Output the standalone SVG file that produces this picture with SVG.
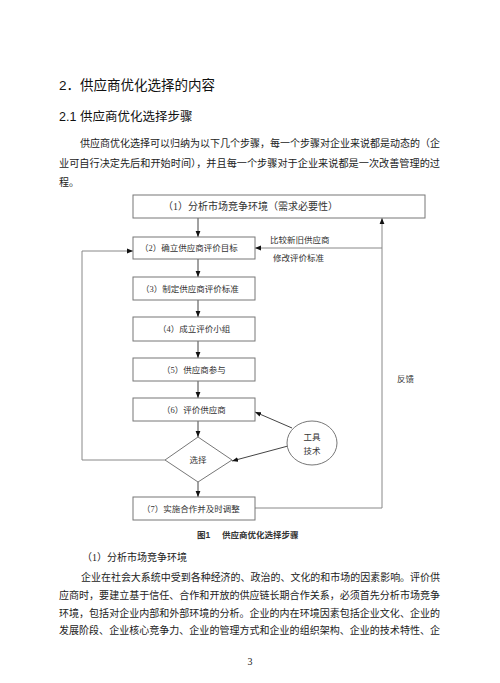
<svg xmlns="http://www.w3.org/2000/svg" width="500" height="683" viewBox="0 0 500 683">
<style>
.body{font-family:"Liberation Serif","Noto Sans CJK SC",serif;font-size:10px;fill:#222}
.h1{font-family:"Liberation Sans","Noto Sans CJK SC",sans-serif;font-size:13.5px;fill:#111}
.h2{font-family:"Liberation Sans","Noto Sans CJK SC",sans-serif;font-size:12.5px;fill:#111}
.lbl{font-family:"Liberation Serif","Noto Sans CJK SC",serif;font-size:8.5px;fill:#333}
.lbl1{font-family:"Liberation Serif","Noto Sans CJK SC",serif;font-size:10px;fill:#333}
.cap{font-family:"Liberation Sans","Noto Sans CJK SC",sans-serif;font-size:8.5px;font-weight:bold;fill:#333}
.box{fill:#fff;stroke:#777;stroke-width:1}
.ln{fill:none;stroke:#444;stroke-width:1}
.lnr{fill:none;stroke:#888;stroke-width:1}
</style>
<defs>
<marker id="ah" viewBox="0 0 10 10" refX="10" refY="5" markerWidth="6" markerHeight="6" orient="auto" markerUnits="userSpaceOnUse">
<path d="M0,1 L10,5 L0,9 Z" fill="#111"/>
</marker>
</defs>
<rect width="500" height="683" fill="#fff"/>

<text class="h1" x="59" y="90">2．供应商优化选择的内容</text>
<text class="h2" x="59" y="120.5">2.1</text>
<text class="h2" x="80" y="120.5">供应商优化选择步骤</text>
<text class="body" x="80" y="147" textLength="360" lengthAdjust="spacingAndGlyphs">供应商优化选择可以归纳为以下几个步骤，每一个步骤对企业来说都是动态的（企</text>
<text class="body" x="59" y="167" textLength="381" lengthAdjust="spacingAndGlyphs">业可自行决定先后和开始时间），并且每一个步骤对于企业来说都是一次改善管理的过</text>
<text class="body" x="59" y="186">程。</text>

<g id="connectors">
<line class="ln" x1="198" y1="218" x2="198" y2="237" marker-end="url(#ah)"/>
<line class="ln" x1="198" y1="259" x2="198" y2="277" marker-end="url(#ah)"/>
<line class="ln" x1="198" y1="300" x2="198" y2="317" marker-end="url(#ah)"/>
<line class="ln" x1="198" y1="341" x2="198" y2="358" marker-end="url(#ah)"/>
<line class="ln" x1="198" y1="381" x2="198" y2="398" marker-end="url(#ah)"/>
<line class="ln" x1="198" y1="421" x2="198" y2="437" marker-end="url(#ah)"/>
<line class="ln" x1="198" y1="482" x2="198" y2="497" marker-end="url(#ah)"/>
<polyline class="lnr" points="165,460 82,460 82,251 133,251" marker-end="url(#ah)"/>
<polyline class="lnr" points="255,508 382,508 382,218" marker-end="url(#ah)"/>
<line class="lnr" x1="382" y1="248" x2="255" y2="248" marker-end="url(#ah)"/>
<line class="ln" x1="292" y1="428" x2="255" y2="412" marker-end="url(#ah)"/>
<line class="ln" x1="288" y1="446" x2="232" y2="461" marker-end="url(#ah)"/>
<text class="lbl" x="270" y="243">比较新旧供应商</text>
<text class="lbl" x="273" y="261">修改评价标准</text>
<text class="lbl" x="397" y="382">反馈</text>
</g>

<g id="n1"><rect class="box" x="133" y="195" width="292" height="23"/><text class="lbl1" x="163" y="210">（1）分析市场竞争环境（需求必要性）</text></g>
<g id="n2"><rect class="box" x="133" y="237" width="122" height="22"/><text class="lbl" x="140" y="251">（2）确立供应商评价目标</text></g>
<g id="n3"><rect class="box" x="133" y="277" width="122" height="23"/><text class="lbl" x="141" y="291.5">（3）制定供应商评价标准</text></g>
<g id="n4"><rect class="box" x="133" y="317" width="122" height="24"/><text class="lbl" x="158" y="332">（4）成立评价小组</text></g>
<g id="n5"><rect class="box" x="133" y="358" width="122" height="23"/><text class="lbl" x="162" y="372.5">（5）供应商参与</text></g>
<g id="n6"><rect class="box" x="133" y="398" width="122" height="23"/><text class="lbl" x="162" y="412.5">（6）评价供应商</text></g>
<g id="n-select"><polygon class="box" points="198,437 232,460 198,482 165,460"/><text class="lbl" x="198" y="463" text-anchor="middle">选择</text></g>
<g id="n-tools"><ellipse class="box" cx="312" cy="443" rx="25" ry="22"/><text class="lbl" x="312" y="440" text-anchor="middle">工具</text><text class="lbl" x="312" y="454" text-anchor="middle">技术</text></g>
<g id="n7"><rect class="box" x="133" y="497" width="122" height="23"/><text class="lbl" x="142" y="511.5">（7）实施合作并及时调整</text></g>

<text class="cap" x="197" y="538">图1</text>
<text class="cap" x="222" y="538">供应商优化选择步骤</text>

<text class="body" x="82" y="561">（1）分析市场竞争环境</text>
<text class="body" x="81" y="581" textLength="359" lengthAdjust="spacingAndGlyphs">企业在社会大系统中受到各种经济的、政治的、文化的和市场的因素影响。评价供</text>
<text class="body" x="59" y="599" textLength="381" lengthAdjust="spacingAndGlyphs">应商时，要建立基于信任、合作和开放的供应链长期合作关系，必须首先分析市场竞争</text>
<text class="body" x="59" y="617" textLength="381" lengthAdjust="spacingAndGlyphs">环境，包括对企业内部和外部环境的分析。企业的内在环境因素包括企业文化、企业的</text>
<text class="body" x="59" y="634" textLength="381" lengthAdjust="spacingAndGlyphs">发展阶段、企业核心竞争力、企业的管理方式和企业的组织架构、企业的技术特性、企</text>
<text class="body" x="250" y="665" text-anchor="middle" font-size="9">3</text>
</svg>
